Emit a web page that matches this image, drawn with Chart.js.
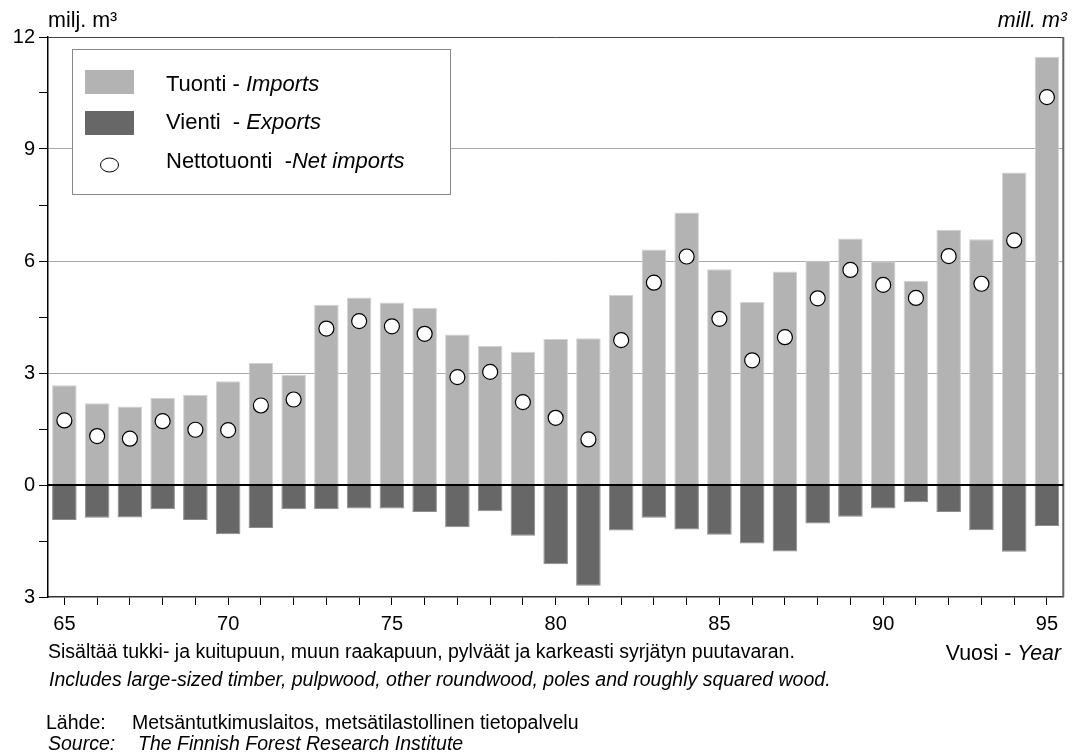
<!DOCTYPE html>
<html>
<head>
<meta charset="utf-8">
<script src="https://cdn.jsdelivr.net/npm/chart.js@4.4.1/dist/chart.umd.min.js"></script>
<style>
  html, body { margin: 0; padding: 0; background: #fff; }
  #wrap { width: 1072px; height: 754px; position: relative; }
</style>
</head>
<body>
<div id="wrap"><canvas id="c" width="1072" height="754"></canvas></div>
<script>
// vuodet 1965–1995, milj. m³
const years = ['65','66','67','68','69','70','71','72','73','74','75','76','77','78','79','80',
  '81','82','83','84','85','86','87','88','89','90','91','92','93','94','95'];
const imports = [2.67, 2.19, 2.10, 2.34, 2.42, 2.78, 3.27, 2.95, 4.83, 5.02, 4.89, 4.75, 4.03, 3.72, 3.57, 3.91,
  3.93, 5.09, 6.31, 7.30, 5.78, 4.90, 5.72, 6.01, 6.60, 5.99, 5.47, 6.84, 6.58, 8.37, 11.47];
const exports = [-0.94, -0.88, -0.87, -0.65, -0.94, -1.32, -1.15, -0.65, -0.65, -0.63, -0.63, -0.72, -1.13, -0.70, -1.36, -2.12,
  -2.70, -1.22, -0.88, -1.19, -1.33, -1.57, -1.78, -1.03, -0.85, -0.63, -0.46, -0.72, -1.21, -1.79, -1.10];
const netImports = [1.73, 1.31, 1.24, 1.71, 1.48, 1.47, 2.13, 2.29, 4.19, 4.39, 4.25, 4.05, 2.89, 3.03, 2.22, 1.80,
  1.22, 3.88, 5.42, 6.12, 4.45, 3.34, 3.96, 5.00, 5.76, 5.36, 5.01, 6.13, 5.39, 6.55, 10.39];

const FONT = "'Liberation Sans', Arial, sans-serif";
const IMP = '#b3b3b3', EXP = '#676767';

Chart.defaults.font.family = FONT;
Chart.defaults.color = '#000';

// mixed upright/italic text helper
function drawParts(ctx, x, y, parts, size, align) {
  let total = 0;
  parts.forEach((p) => { ctx.font = `${p[1] ? 'italic ' : ''}${size}px ${FONT}`; total += ctx.measureText(p[0]).width; });
  let cx = align === 'right' ? x - total : x;
  parts.forEach((p) => {
    ctx.font = `${p[1] ? 'italic ' : ''}${size}px ${FONT}`;
    ctx.fillText(p[0], cx, y);
    cx += ctx.measureText(p[0]).width;
  });
}

const decor = {
  id: 'decor',
  beforeDatasetsDraw(chart) {
    const { ctx, chartArea: a } = chart;
    ctx.save();
    // kehys: ylä- ja oikea reuna
    ctx.strokeStyle = '#444'; ctx.lineWidth = 1;
    ctx.beginPath(); ctx.moveTo(a.left, a.top + 0.5); ctx.lineTo(a.right, a.top + 0.5); ctx.stroke();
    ctx.strokeStyle = '#666'; ctx.lineWidth = 2;
    ctx.beginPath(); ctx.moveTo(a.right, a.top); ctx.lineTo(a.right, a.bottom); ctx.stroke();
    ctx.restore();
  },
  afterDatasetsDraw(chart) {
    const { ctx, chartArea: a } = chart;
    const y0 = chart.scales.y.getPixelForValue(0);
    ctx.save();
    ctx.strokeStyle = '#000'; ctx.lineWidth = 2;
    ctx.beginPath(); ctx.moveTo(a.left, y0); ctx.lineTo(a.right, y0); ctx.stroke();

    // selite
    ctx.fillStyle = '#fff'; ctx.fillRect(72, 49, 379, 146);
    ctx.strokeStyle = '#888'; ctx.lineWidth = 1; ctx.strokeRect(72.5, 49.5, 378, 145);
    ctx.fillStyle = IMP; ctx.fillRect(85, 70, 49, 24);
    ctx.fillStyle = EXP; ctx.fillRect(85, 111, 49, 24);
    ctx.fillStyle = '#fff'; ctx.strokeStyle = '#000'; ctx.lineWidth = 1;
    ctx.beginPath(); ctx.ellipse(109.5, 165, 9, 7, 0, 0, Math.PI * 2); ctx.fill(); ctx.stroke();
    ctx.fillStyle = '#000'; ctx.textBaseline = 'alphabetic'; ctx.textAlign = 'left';
    drawParts(ctx, 166, 91, [['Tuonti - ', false], ['Imports', true]], 22);
    drawParts(ctx, 166, 129, [['Vienti  - ', false], ['Exports', true]], 22);
    drawParts(ctx, 166, 168, [['Nettotuonti  -', false], ['Net imports', true]], 22);
    ctx.restore();
  },
  afterDraw(chart) {
    const { ctx } = chart;
    ctx.save();
    ctx.fillStyle = '#000'; ctx.textBaseline = 'alphabetic'; ctx.textAlign = 'left';
    drawParts(ctx, 48, 27, [['milj. m³', false]], 21.5);
    drawParts(ctx, 1067, 27, [['mill. m³', true]], 21.5, 'right');
    drawParts(ctx, 48, 658, [['Sisältää tukki- ja kuitupuun, muun raakapuun, pylväät ja karkeasti syrjätyn puutavaran.', false]], 19.5);
    drawParts(ctx, 49, 686, [['Includes large-sized timber, pulpwood, other roundwood, poles and roughly squared wood.', true]], 19.5);
    drawParts(ctx, 1061, 660, [['Vuosi - ', false], ['Year', true]], 21.3, 'right');
    drawParts(ctx, 46, 729, [['Lähde:', false]], 19.5);
    drawParts(ctx, 132, 729, [['Metsäntutkimuslaitos, metsätilastollinen tietopalvelu', false]], 19.5);
    drawParts(ctx, 48, 750, [['Source:', true]], 19.5);
    drawParts(ctx, 138, 750, [['The Finnish Forest Research Institute', true]], 19.5);
    ctx.restore();
  },
};

new Chart(document.getElementById('c'), {
  data: {
    labels: years,
    datasets: [
      { type: 'line', label: 'Nettotuonti - Net imports', data: netImports, showLine: false, order: 0,
        pointRadius: 7.5, pointHoverRadius: 7.5, pointBackgroundColor: '#fff', pointBorderColor: '#000', pointBorderWidth: 1.2 },
      { type: 'bar', label: 'Tuonti - Imports', data: imports, grouped: false, order: 1,
        backgroundColor: IMP, borderColor: '#d2d2d2', borderWidth: 1, barPercentage: 0.75, categoryPercentage: 1 },
      { type: 'bar', label: 'Vienti - Exports', data: exports, grouped: false, order: 1,
        backgroundColor: EXP, borderColor: '#8c8c8c', borderWidth: 1, barPercentage: 0.75, categoryPercentage: 1 },
    ],
  },
  options: {
    responsive: false, animation: false,
    layout: { padding: { top: 37, right: 8, left: 0, bottom: 0 } },
    plugins: { legend: { display: false }, tooltip: { enabled: false } },
    scales: {
      x: {
        offset: true,
        afterFit: (s) => { s.height = 157; },
        border: { color: '#333', width: 1.5 },
        grid: { offset: false, drawOnChartArea: false, drawTicks: true, tickLength: 8, tickColor: '#000', tickWidth: 1 },
        ticks: { autoSkip: false, maxRotation: 0, padding: 7, font: { size: 20 },
          callback: (v, i) => (Number(years[i]) % 5 === 0 ? years[i] : '') },
      },
      y: {
        min: -3, max: 12,
        afterFit: (s) => { s.width = 48; },
        border: { color: '#000', width: 1.5 },
        grid: {
          drawTicks: true, tickLength: 9, tickColor: '#000', tickWidth: 1,
          color: (c) => { const v = c.tick.value; return (v === 3 || v === 6 || v === 9) ? '#aaaaaa' : 'rgba(0,0,0,0)'; },
        },
        ticks: { stepSize: 1.5, padding: 4, font: { size: 20 },
          callback: (v) => (v % 3 === 0 ? String(Math.abs(v)) : '') },
      },
    },
  },
  plugins: [decor],
});
</script>
</body>
</html>
